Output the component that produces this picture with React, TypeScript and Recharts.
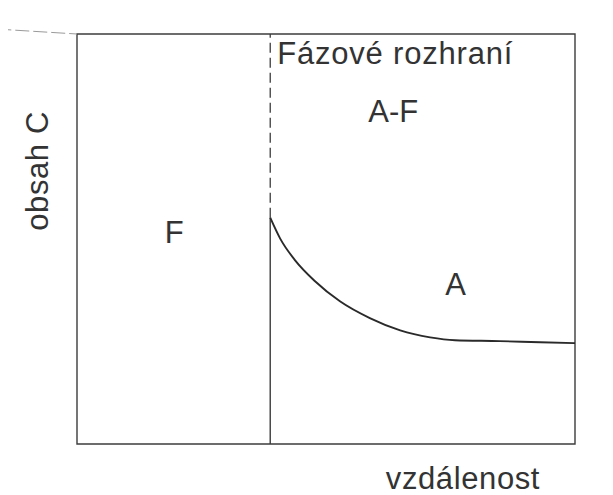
import React from "react";
import {
  LineChart,
  Line,
  XAxis,
  YAxis,
  ReferenceArea,
  ReferenceLine,
  ReferenceDot,
} from "recharts";

// Carbon content profile across the ferrite / austenite interface
const distance = [38.8, 40.8, 43.8, 47.8, 52.8, 58.8, 64.9, 70.9, 75.9, 84.9, 93.0, 100];
const carbon = [55.2, 50.1, 44.8, 39.7, 34.8, 30.7, 27.7, 26.0, 25.3, 25.1, 24.8, 24.6];

// position of the phase boundary on the distance axis
const interfaceX = 38.8;

const regionNames = ["F", "A-F", "A"];
const regionX = [19.5, 63.5, 76];
const regionY = [51.5, 81, 39];

const boundaryTitle = "Fázové rozhraní";
const boundaryTitlePos = { x: 40.2, y: 95.2 };

const yTitle = "obsah C";
const yTitlePos = { x: -8.0, y: 66.6 };
const xTitle = "vzdálenost";
const xTitlePos = { x: 77.5, y: -8.3 };

const rows = distance.map((d, i) => ({ distance: d, carbon: carbon[i] }));

const FONT = '"Liberation Sans", Arial, sans-serif';
const INK = "#333333";
const LINE = "#3c3c3c";

type TextOpts = {
  anchor?: "start" | "middle" | "end";
  rotate?: number;
  size?: number;
  spacing?: number;
};

const makeLabel = (text: string, opts: TextOpts = {}) => (props: any) => {
  const vb = props.viewBox || {};
  const cx = (vb.x ?? 0) + (vb.width ?? 0) / 2;
  const cy = (vb.y ?? 0) + (vb.height ?? 0) / 2;
  return (
    <text
      x={cx}
      y={cy}
      fill={INK}
      fontFamily={FONT}
      fontSize={opts.size ?? 31}
      letterSpacing={opts.spacing ?? 0}
      textAnchor={opts.anchor ?? "middle"}
      dominantBaseline="central"
      transform={opts.rotate ? `rotate(${opts.rotate} ${cx} ${cy})` : undefined}
    >
      {text}
    </text>
  );
};

export default function App() {
  return (
    <div style={{ width: 605, height: 487, background: "#fff" }}>
      <LineChart
        width={605}
        height={487}
        data={rows}
        margin={{ top: 26, right: 38, bottom: 51, left: 69 }}
      >
        <XAxis dataKey="distance" type="number" domain={[0, 100]} hide />
        <YAxis type="number" domain={[0, 100]} hide />

        {/* faint guide running off the top-left corner */}
        <ReferenceLine
          segment={[
            { x: -16, y: 101.2 },
            { x: 0, y: 100 },
          ]}
          stroke="#9a9a9a"
          strokeWidth={1}
          strokeDasharray="14 4"
          ifOverflow="visible"
        />

        <ReferenceArea
          x1={0}
          x2={100}
          y1={0}
          y2={100}
          fill="none"
          stroke={LINE}
          strokeWidth={1.4}
          ifOverflow="visible"
        />

        {/* phase boundary: dashed above the profile, solid below */}
        <ReferenceLine
          segment={[
            { x: interfaceX, y: carbon[0] },
            { x: interfaceX, y: 100 },
          ]}
          stroke={LINE}
          strokeWidth={1.3}
          strokeDasharray="10 5"
          ifOverflow="visible"
        />
        <ReferenceLine
          segment={[
            { x: interfaceX, y: 0 },
            { x: interfaceX, y: carbon[0] },
          ]}
          stroke={LINE}
          strokeWidth={1.4}
          ifOverflow="visible"
        />

        <Line
          dataKey="carbon"
          type="monotone"
          stroke="#2a2a2a"
          strokeWidth={1.9}
          dot={false}
          isAnimationActive={false}
        />

        {regionNames.map((name, i) => (
          <ReferenceDot
            key={name}
            x={regionX[i]}
            y={regionY[i]}
            r={0}
            stroke="none"
            fill="none"
            ifOverflow="visible"
            label={makeLabel(name)}
          />
        ))}

        <ReferenceDot
          x={boundaryTitlePos.x}
          y={boundaryTitlePos.y}
          r={0}
          stroke="none"
          fill="none"
          ifOverflow="visible"
          label={makeLabel(boundaryTitle, { anchor: "start", size: 31, spacing: 0.8 })}
        />
        <ReferenceDot
          x={yTitlePos.x}
          y={yTitlePos.y}
          r={0}
          stroke="none"
          fill="none"
          ifOverflow="visible"
          label={makeLabel(yTitle, { rotate: -90, spacing: 0.6 })}
        />
        <ReferenceDot
          x={xTitlePos.x}
          y={xTitlePos.y}
          r={0}
          stroke="none"
          fill="none"
          ifOverflow="visible"
          label={makeLabel(xTitle, { spacing: 0.6 })}
        />
      </LineChart>
    </div>
  );
}
